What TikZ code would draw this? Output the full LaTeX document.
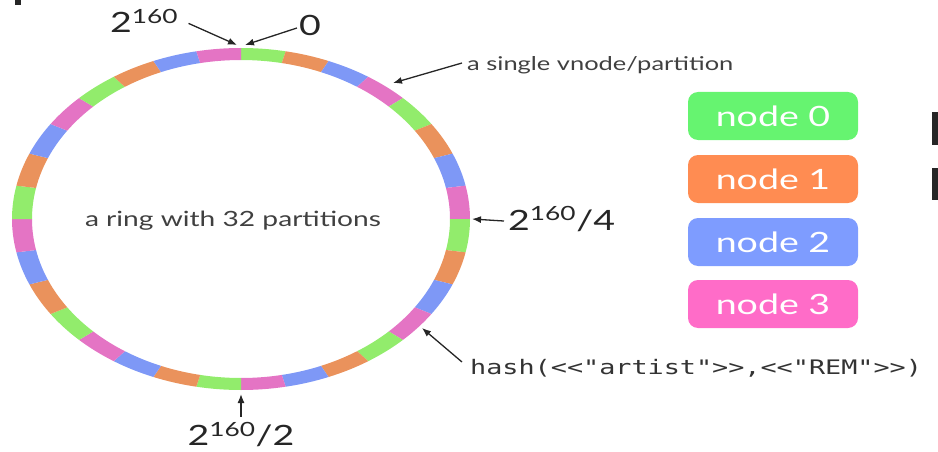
\documentclass[tikz,border=0pt]{standalone}
\usepackage{fontspec}
\setmainfont{Lato}
\setmonofont{DejaVu Sans Mono}
\usetikzlibrary{arrows.meta,calc}
\definecolor{ring0}{RGB}{146,236,108}
\definecolor{ring1}{RGB}{234,146,92}
\definecolor{ring2}{RGB}{126,152,246}
\definecolor{ring3}{RGB}{228,116,196}
\definecolor{leg0}{RGB}{102,244,112}
\definecolor{leg1}{RGB}{255,140,82}
\definecolor{leg2}{RGB}{126,156,255}
\definecolor{leg3}{RGB}{255,108,200}
\newcommand{\sx}[1]{\scalebox{1.34}[1]{#1}}
\tikzset{
  arr/.style={-{Latex[length=9pt,width=7pt]}, line width=1.3pt, black!85},
  legbox/.style={rounded corners=10pt, minimum width=170pt, minimum height=48pt, text=white, font=\fontsize{28}{30}\selectfont, inner sep=0pt},
  biglab/.style={font=\fontsize{28}{30}\selectfont, text=black!85, inner sep=0pt},
  ringlabel/.style={font=\fontsize{21}{23}\selectfont, text=black!75, inner sep=0pt},
  smalllab/.style={font=\fontsize{19}{21}\selectfont, text=black!75, inner sep=0pt},
  monolab/.style={font=\ttfamily\fontsize{20}{22}\selectfont, text=black!80, inner sep=0pt},
  stub/.style={fill=black!85}
}
\begin{document}
\begin{tikzpicture}[x=1pt,y=1pt]
\useasboundingbox (0,0) rectangle (938,451);
\coordinate (c) at (241,232);
% ring partitions
\foreach \i in {0,...,31}{
  \pgfmathsetmacro\aone{90-11.25*\i}
  \pgfmathsetmacro\atwo{90-11.25*(\i+1)}
  \pgfmathtruncatemacro\k{mod(\i,4)}
  \fill[ring\k] ($(c)+(\aone:229pt and 171pt)$)
     arc[start angle=\aone, end angle=\atwo, x radius=229pt, y radius=171pt]
     -- ($(c)+(\atwo:209pt and 159pt)$)
     arc[start angle=\atwo, end angle=\aone, x radius=209pt, y radius=159pt]
     -- cycle;
}
% ring label
\node[ringlabel] (ringlab) at (233,230) {\sx{a ring with 32 partitions}};
% target coordinates on ring
\coordinate (ptopl) at (237,406);
\coordinate (ptopr) at (245,406);
\coordinate (peast) at (472,232);
\coordinate (psouth) at (241,57);
\coordinate (pvnode) at (393,368);
\coordinate (phash) at (422,123);
% labels
\node[biglab, anchor=base west] (t160) at (110,418) {\sx{2\textsuperscript{160}}};
\node[biglab] (tzero) at (310,426) {\sx{0}};
\node[biglab, anchor=base west] (tquarter) at (508,221) {\sx{2\textsuperscript{160}/4}};
\node[biglab] (thalf) at (241,16) {\sx{2\textsuperscript{160}/2}};
\node[smalllab, anchor=west] (tvnode) at (467,386) {\sx{a single vnode/partition}};
\node[monolab, anchor=west] (thash) at (470,83) {\sx{hash(<{}<"artist">{}>,<{}<"REM">{}>)}};
% arrows
\draw[arr] ([xshift=10pt,yshift=-2pt]t160.east) -- (ptopl);
\draw[arr] ([xshift=-2pt,yshift=-3pt]tzero.west) -- (ptopr);
\draw[arr] ([xshift=-4pt,yshift=-2pt]tquarter.west) -- (peast);
\draw[arr] ([yshift=6pt]thalf.north) -- (psouth);
\draw[arr] ([xshift=-5pt,yshift=2pt]tvnode.west) -- (pvnode);
\draw[arr] ([xshift=-8pt,yshift=6pt]thash.west) -- (phash);
% legend
\node[legbox, fill=leg0] (n0) at (773,335) {\sx{node 0}};
\node[legbox, fill=leg1] (n1) at (773,272) {\sx{node 1}};
\node[legbox, fill=leg2] (n2) at (773,209) {\sx{node 2}};
\node[legbox, fill=leg3] (n3) at (773,147) {\sx{node 3}};
% cut-off strokes at the picture edges
\fill[stub] (932,306) rectangle (938,339);
\fill[stub] (932,251) rectangle (938,283);
\fill[stub] (15,446) rectangle (21,451);
\end{tikzpicture}
\end{document}
